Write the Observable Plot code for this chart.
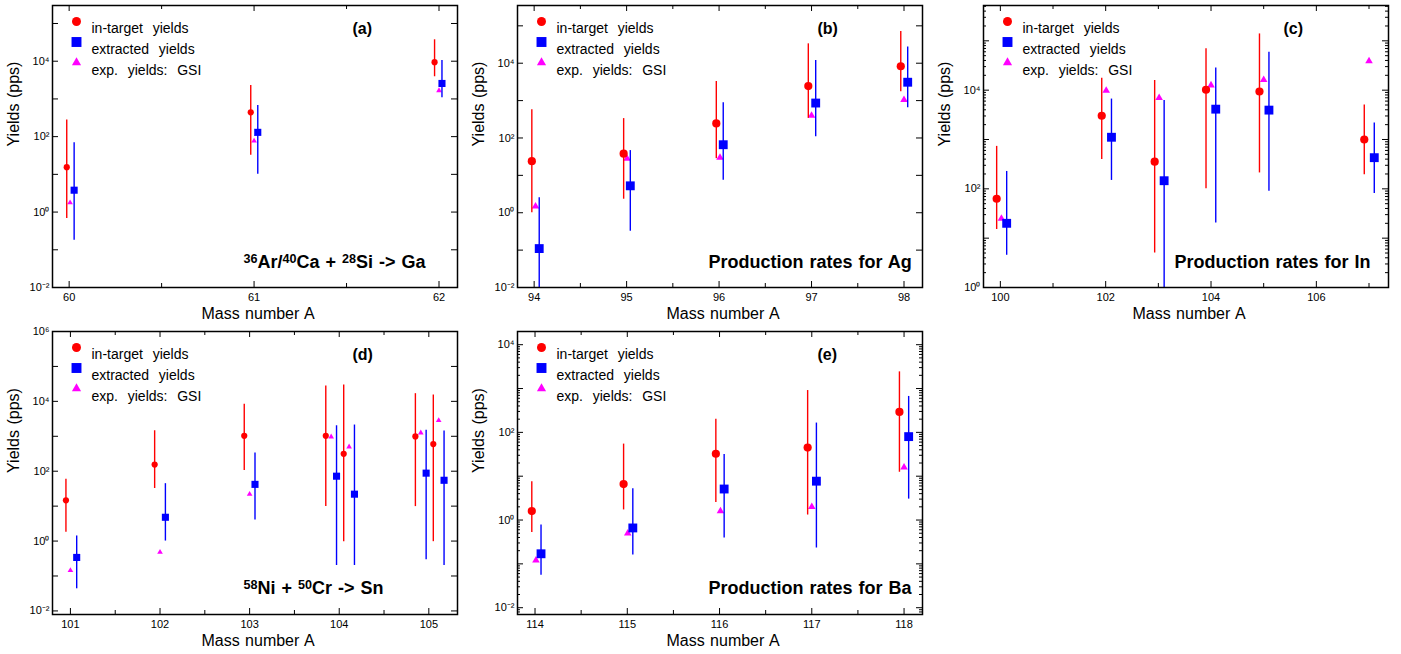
<!DOCTYPE html>
<html><head><meta charset="utf-8">
<script src="https://cdn.jsdelivr.net/npm/d3@7"></script>
<script src="https://cdn.jsdelivr.net/npm/@observablehq/plot@0.6"></script>
<style>
body{margin:0;background:#fff;}
#wrap{position:relative;width:1401px;height:654px;overflow:hidden;}
.panel{position:absolute;}
</style></head><body><div id="wrap"></div>
<script>
// Each row: [A (as plotted), value, lower end of bar, upper end of bar]; GSI rows: [A, value]
const gaInTarget = [[59.987, 15.5, 0.68, 275], [60.982, 440, 32, 2280], [61.976, 9400, 3870, 37000]];
const gaExtracted = [[60.027, 3.8, 0.18, 69], [61.02, 130, 10, 670], [62.016, 2570, 1070, 10400]];
const gaGsi = [[60.005, 1.77], [61.0, 77], [62.0, 1670]];

const agInTarget = [[93.975, 24, 1.0, 570], [94.968, 38, 2.3, 330], [95.97, 245, 28, 3240], [96.965, 2440, 335, 33000], [97.965, 8300, 1720, 71000]];
const agExtracted = [[94.055, 0.11, 0.005, 2.5], [95.04, 5.25, 0.32, 46], [96.045, 66, 7.4, 880], [97.045, 860, 108, 11800], [98.04, 3100, 640, 27000]];
const agGsi = [[94.015, 1.48], [95.005, 28], [96.01, 30], [97.0, 395], [98.0, 1050]];

const inInTarget = [[99.93, 63, 15, 725], [101.925, 3030, 395, 17500], [102.93, 355, 5.0, 15700], [103.905, 10200, 100, 69000], [104.92, 9400, 210, 138000], [106.91, 1000, 193, 5000]];
const inExtracted = [[100.12, 20, 4.5, 225], [102.11, 1110, 148, 6600], [103.11, 146, 0.5, 6200], [104.09, 4120, 20.4, 28000], [105.1, 3940, 89, 59000], [107.1, 428, 80, 2150]];
const inGsi = [[100.02, 25], [102.01, 9800], [103.015, 7000], [104.0, 12600], [105.0, 16200], [107.0, 39000]];

const snInTarget = [[100.95, 14.7, 1.8, 59], [101.94, 155, 32, 1440], [102.94, 1030, 105, 8200], [103.85, 1030, 9.7, 27500], [104.05, 315, 0.96, 29500], [104.85, 990, 9.7, 16600], [105.05, 600, 0.96, 15200]];
const snExtracted = [[101.07, 0.34, 0.043, 1.4], [102.06, 4.8, 1.0, 44], [103.06, 42, 4.0, 330], [103.97, 72, 0.2, 2000], [104.17, 22, 0.2, 2100], [104.97, 88, 0.29, 1500], [105.17, 55, 0.2, 1410]];
const snGsi = [[101.0, 0.144], [102.0, 0.48], [103.0, 22], [103.91, 970], [104.11, 500], [104.91, 1260], [105.11, 2850]];

const baInTarget = [[113.965, 1.6, 0.52, 7.5], [114.96, 6.6, 1.7, 54], [115.96, 32.5, 2.5, 200], [116.955, 45, 1.3, 900], [117.95, 293, 12.3, 2400]];
const baExtracted = [[114.065, 0.17, 0.055, 0.77], [115.06, 0.66, 0.16, 5.2], [116.05, 5.1, 0.39, 31.4], [117.05, 7.7, 0.23, 163], [118.05, 80, 3.0, 660]];
const baGsi = [[114.01, 0.12], [115.005, 0.5], [116.01, 1.6], [117.0, 2.0], [118.0, 16]];

// tick labels
const gaTicksX = [60, 61, 62];
const agTicksX = [94, 95, 96, 97, 98];
const inTicksX = [100, 102, 104, 106];
const snTicksX = [101, 102, 103, 104, 105];
const baTicksX = [114, 115, 116, 117, 118];
const gaTicksY = [-2, 0, 2, 4];
const agTicksY = [-2, 0, 2, 4];
const inTicksY = [0, 2, 4];
const snTicksY = [-2, 0, 2, 4, 6];
const baTicksY = [-2, 0, 2, 4];

const legendLabels = ["in-target  yields", "extracted  yields", "exp.  yields:  GSI"];
const notes = ["^36Ar/^40Ca + ^28Si -> Ga", "Production rates for Ag", "Production rates for In", "^58Ni + ^50Cr -> Sn", "Production rates for Ba"];
const tags = ["(a)", "(b)", "(c)", "(d)", "(e)"];

const RED = "#ff0000", BLUE = "#0000ff", MAG = "#ff00ff";
const FONT = "'Liberation Sans', Arial, Helvetica, sans-serif";

const SUP = {"0":"⁰","1":"¹","2":"²","3":"³","4":"⁴","5":"⁵","6":"⁶","7":"⁷","8":"⁸","9":"⁹","-":"⁻"};
const fmtPow = d => "10" + String(Math.round(Math.log10(d))).split("").map(c => SUP[c]).join("");

const panels = [
  {left: 0, top: 0, width: 465, mL: 52, mR: 8, mT: 5, mB: 38, x: [59.91, 62.1], y: [0.01, 3e5], xt: gaTicksX, xm: [60.5, 61.5], yt: gaTicksY, ye: [-2, 5], minor: false, small: true, inT: gaInTarget, ex: gaExtracted, gsi: gaGsi},
  {left: 465, top: 0, width: 465, mL: 52, mR: 8, mT: 5, mB: 38, x: [93.82, 98.2], y: [0.01, 3.5e5], xt: agTicksX, xm: [94.5, 95.5, 96.5, 97.5], yt: agTicksY, ye: [-2, 5], minor: false, small: false, inT: agInTarget, ex: agExtracted, gsi: agGsi},
  {left: 930, top: 0, width: 465, mL: 53, mR: 7, mT: 5, mB: 38, x: [99.68, 107.37], y: [1, 5.2e5], xt: inTicksX, xm: [101, 103, 105, 107], yt: inTicksY, ye: [0, 5], minor: true, small: false, inT: inInTarget, ex: inExtracted, gsi: inGsi},
  {left: 0, top: 325, width: 465, mL: 52, mR: 8, mT: 6, mB: 36, x: [100.8, 105.32], y: [0.0079, 1e6], xt: snTicksX, xm: [101.5, 102.5, 103.5, 104.5], yt: snTicksY, ye: [-2, 6], minor: false, small: true, inT: snInTarget, ex: snExtracted, gsi: snGsi},
  {left: 465, top: 325, width: 465, mL: 52, mR: 8, mT: 6, mB: 36, x: [113.81, 118.2], y: [0.007, 2e4], xt: baTicksX, xm: [114.5, 115.5, 116.5, 117.5], yt: baTicksY, ye: [-2, 4], minor: true, small: false, inT: baInTarget, ex: baExtracted, gsi: baGsi}
];

const wrap = document.getElementById("wrap");
const H = 325;

panels.forEach((p, i) => {
  const W = p.width - p.mL - p.mR;
  const FH = H - p.mT - p.mB;
  const majors = d3.range(p.ye[0], p.ye[1] + 1).map(e => Math.pow(10, e)).filter(v => v >= p.y[0] && v <= p.y[1]);
  const minors = [];
  if (p.minor) {
    for (let e = p.ye[0] - 1; e <= p.ye[1]; e++) for (let k = 2; k <= 9; k++) {
      const v = k * Math.pow(10, e);
      if (v > p.y[0] && v < p.y[1]) minors.push(v);
    }
  }
  const rc = p.small ? 3.1 : 4.1, rs = p.small ? 4.0 : 5.0, rt = p.small ? 2.1 : 2.8;
  const sw = 1.4;
  const plot = Plot.plot({
    width: p.width, height: H,
    marginLeft: p.mL, marginRight: p.mR, marginTop: p.mT, marginBottom: p.mB,
    x: {type: "linear", domain: p.x},
    y: {type: "log", domain: p.y},
    style: {fontFamily: FONT, fontSize: "11px", wordSpacing: "1px", background: "white", overflow: "visible", color: "black"},
    marks: [
      // ticks inward
      Plot.tickY(majors, {y: d => d, insetRight: W - 6, stroke: "black"}),
      Plot.tickY(majors, {y: d => d, insetLeft: W - 6, stroke: "black"}),
      Plot.tickY(minors, {y: d => d, insetRight: W - 3, stroke: "black"}),
      Plot.tickY(minors, {y: d => d, insetLeft: W - 3, stroke: "black"}),
      Plot.tickX(p.xt, {x: d => d, insetTop: FH - 6, stroke: "black"}),
      Plot.tickX(p.xt, {x: d => d, insetBottom: FH - 6, stroke: "black"}),
      Plot.tickX(p.xm, {x: d => d, insetTop: FH - 4, stroke: "black"}),
      Plot.tickX(p.xm, {x: d => d, insetBottom: FH - 4, stroke: "black"}),
      Plot.axisY({ticks: p.yt.map(e => Math.pow(10, e)), tickSize: 0, tickPadding: 3, tickFormat: fmtPow, label: null, fontSize: 11}),
      Plot.axisX({ticks: p.xt, tickSize: 0, tickPadding: 6, tickFormat: d => String(d), label: null, fontSize: 11}),
      // data
      Plot.dot(p.gsi, {x: d => d[0], y: d => d[1], symbol: "triangle", r: rt, fill: MAG}),
      Plot.ruleX(p.inT, {x: d => d[0], y1: d => d[2], y2: d => d[3], stroke: RED, strokeWidth: sw, clip: true}),
      Plot.dot(p.inT, {x: d => d[0], y: d => d[1], symbol: "circle", r: rc, fill: RED}),
      Plot.ruleX(p.ex, {x: d => d[0], y1: d => d[2], y2: d => d[3], stroke: BLUE, strokeWidth: sw, clip: true}),
      Plot.dot(p.ex, {x: d => d[0], y: d => d[1], symbol: "square", r: rs, fill: BLUE}),
      // legend
      Plot.dot([0], {frameAnchor: "top-left", dx: 24, dy: 16, symbol: "circle", r: 4.5, fill: RED}),
      Plot.dot([0], {frameAnchor: "top-left", dx: 24, dy: 36.5, symbol: "square", r: 5.6, fill: BLUE}),
      Plot.dot([0], {frameAnchor: "top-left", dx: 24, dy: 57, symbol: "triangle", r: 3.4, fill: MAG}),
      ...legendLabels.map((t, j) => Plot.text([t], {text: d => d, frameAnchor: "top-left", dx: 39, dy: 18 + j * 20.7, fontSize: 14, textAnchor: "start"})),
      Plot.text([tags[i]], {text: d => d, frameAnchor: "top-left", dx: 300, dy: 17, fontSize: 16, fontWeight: "bold"}),
      Plot.text([notes[i]], {text: d => d, frameAnchor: "top-left", dx: 191, dy: 250, fontSize: 18, fontWeight: "bold", textAnchor: "start"}),
      // axis titles
      Plot.text(["Yields (pps)"], {text: d => d, frameAnchor: "left", dx: -39, rotate: -90, fontSize: 16}),
      Plot.text(["Mass number A"], {text: d => d, frameAnchor: "bottom", dx: 3, dy: 31, fontSize: 16}),
      Plot.frame({stroke: "black", strokeWidth: 1.5})
    ]
  });
  // superscripts in annotations
  d3.select(plot).selectAll("text").each(function() {
    const s = this.textContent;
    if (s.indexOf("^") < 0) return;
    const sel = d3.select(this);
    sel.text(null);
    const parts = s.split(/(\^\d+)/).filter(q => q.length);
    parts.forEach(q => {
      if (q[0] === "^") sel.append("tspan").attr("font-size", "70%").attr("baseline-shift", "40%").text(q.slice(1));
      else sel.append("tspan").text(q);
    });
  });
  const div = document.createElement("div");
  div.className = "panel";
  div.style.left = p.left + "px";
  div.style.top = p.top + "px";
  div.appendChild(plot);
  wrap.appendChild(div);
});
</script></body></html>
